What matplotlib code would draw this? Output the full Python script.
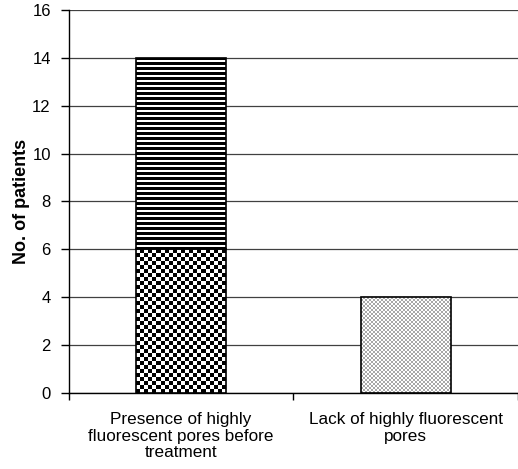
import numpy as np
import matplotlib
matplotlib.use("Agg")
import matplotlib.pyplot as plt

plt.rcParams['font.family'] = ['Liberation Sans', 'DejaVu Sans']

categories = ["Presence of highly\nfluorescent pores before\ntreatment",
              "Lack of highly fluorescent\npores"]
lower_values = [6, 4]     # checker part (bar 1) / grey part (bar 2)
upper_values = [8, 0]     # horizontal stripes (bar 1)
yticks = [0, 2, 4, 6, 8, 10, 12, 14, 16]

fig = plt.figure(figsize=(5.18, 4.69), dpi=100)
ax = fig.add_axes([0.133, 0.162, 0.867, 0.817])

x = np.arange(len(categories))
width = 0.4

ax.set_xlim(-0.5, 1.5)
ax.set_ylim(0, 16)
ax.set_yticks(yticks)
ax.grid(axis='y', color='#404040', linewidth=0.9)
ax.set_axisbelow(True)

def pattern_fill(bar, kind):
    x0, y0 = bar.get_x(), bar.get_y()
    w, h = bar.get_width(), bar.get_height()
    if h <= 0:
        return
    p0 = ax.transData.transform((x0, y0))
    p1 = ax.transData.transform((x0 + w, y0 + h))
    pw, ph = int(round(p1[0] - p0[0])), int(round(p1[1] - p0[1]))
    if kind == 'checker':
        cell = 4
        nx, ny = max(pw // cell, 1), max(ph // cell, 1)
        ii, jj = np.indices((ny, nx))
        img = ((ii + jj) % 2).astype(float)
        cmap = matplotlib.colors.ListedColormap(['white', 'black'])
    elif kind == 'stripes':
        period = 5
        ny = max(ph, 1)
        rows = (np.arange(ny) % period) < 3
        img = np.repeat(rows[:, None], 2, axis=1).astype(float)
        cmap = matplotlib.colors.ListedColormap(['white', 'black'])
    else:
        cell = 2
        nx, ny = max(pw // cell, 1), max(ph // cell, 1)
        ii, jj = np.indices((ny, nx))
        img = ((ii + jj) % 2).astype(float)
        cmap = matplotlib.colors.ListedColormap(['white', '#a8a8a8'])
    im = ax.imshow(img, extent=(x0, x0 + w, y0, y0 + h), cmap=cmap,
                   vmin=0, vmax=1, interpolation='nearest', aspect='auto',
                   zorder=2)
    im.set_clip_path(bar)

b1 = ax.bar(x, lower_values, width, facecolor='none', edgecolor='black',
            linewidth=1.2, zorder=3)
b2 = ax.bar(x, upper_values, width, bottom=lower_values, facecolor='none',
            edgecolor='black', linewidth=1.2, zorder=3)

pattern_fill(b1[0], 'checker')
pattern_fill(b1[1], 'grey')
pattern_fill(b2[0], 'stripes')
b2[1].set_visible(False)

ax.set_xlim(-0.5, 1.5)
ax.set_ylim(0, 16)

ax.set_xticks(x)
ax.set_xticklabels(categories, fontsize=12.3, linespacing=1.1)
ax.set_xticks([-0.5, 0.5, 1.5], minor=True)
ax.tick_params(axis='x', which='major', length=0, pad=14)
ax.tick_params(axis='x', which='minor', length=5, direction='out', width=1)
ax.tick_params(axis='y', length=6, width=1, direction='out', labelsize=12, pad=7)

for s in ['top', 'right']:
    ax.spines[s].set_visible(False)
ax.spines['left'].set_linewidth(1)
ax.spines['bottom'].set_linewidth(1)

ax.set_ylabel("No. of patients", fontsize=13, fontweight='bold', labelpad=1.5)

fig.savefig("out.png", dpi=100)
